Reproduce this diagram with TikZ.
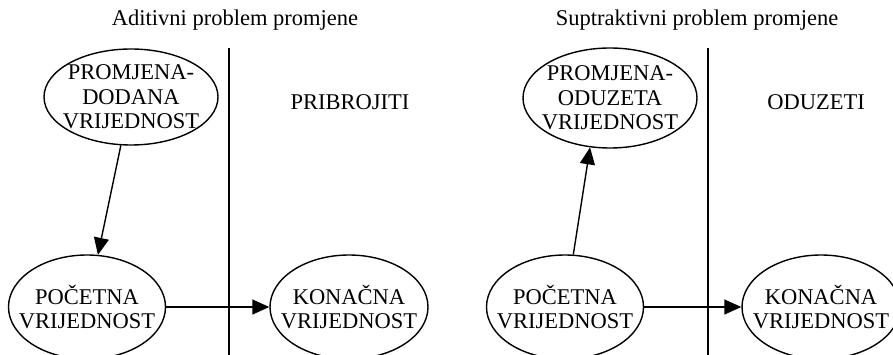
\documentclass[tikz,border=0pt]{standalone}
\usepackage{fontspec}
\setmainfont{Liberation Serif}
\usetikzlibrary{shapes.geometric,arrows.meta}
\tikzset{
  ell/.style={draw, ellipse, line width=1.4pt, inner sep=0pt},
  txt/.style={align=center, inner sep=0pt, font=\fontsize{22.5}{24.5}\selectfont},
  lbl/.style={font=\fontsize{22.5}{24.5}\selectfont, inner sep=0pt},
  arr/.style={line width=1.4pt, -{Triangle[length=17pt,width=15pt]}},
  divider/.style={line width=1.4pt}
}
\begin{document}
\begin{tikzpicture}[x=1pt,y=-1pt]
\useasboundingbox (0,0) rectangle (893,355);
\clip (0,0) rectangle (893,355);
% left panel
\node[lbl] (t1) at (235,20) {Aditivni problem promjene};
\coordinate (v1a) at (229,48);
\coordinate (v1b) at (229,360);
\draw[divider] (v1a) -- (v1b);
\node[ell, minimum width=174pt, minimum height=96pt] (la) at (131,97) {};
\node[txt] (lat) at (la) {PROMJENA-\\DODANA\\VRIJEDNOST};
\node[lbl] (pr) at (350,102) {PRIBROJITI};
\node[ell, minimum width=157pt, minimum height=104pt] (lb) at (87,307) {};
\node[txt] (lbt) at (lb) {POČETNA\\VRIJEDNOST};
\node[ell, minimum width=158pt, minimum height=104pt] (lc) at (349,307) {};
\node[txt] (lct) at (lc) {KONAČNA\\VRIJEDNOST};
\draw[arr] (la) -- (lb);
\draw[arr] (lb) -- (lc);
% right panel
\node[lbl] (t2) at (697,20) {Suptraktivni problem promjene};
\coordinate (v2a) at (708,48);
\coordinate (v2b) at (708,360);
\draw[divider] (v2a) -- (v2b);
\node[ell, minimum width=174pt, minimum height=100pt] (ra) at (610,98) {};
\node[txt] (rat) at (ra) {PROMJENA-\\ODUZETA\\VRIJEDNOST};
\node[lbl] (od) at (816,102) {ODUZETI};
\node[ell, minimum width=157pt, minimum height=104pt] (rb) at (565,307) {};
\node[txt] (rbt) at (rb) {POČETNA\\VRIJEDNOST};
\node[ell, minimum width=158pt, minimum height=104pt] (rc) at (821,307) {};
\node[txt] (rct) at (rc) {KONAČNA\\VRIJEDNOST};
\draw[arr] (rb.81) -- (ra.248);
\draw[arr] (rb) -- (rc);
\end{tikzpicture}
\end{document}
